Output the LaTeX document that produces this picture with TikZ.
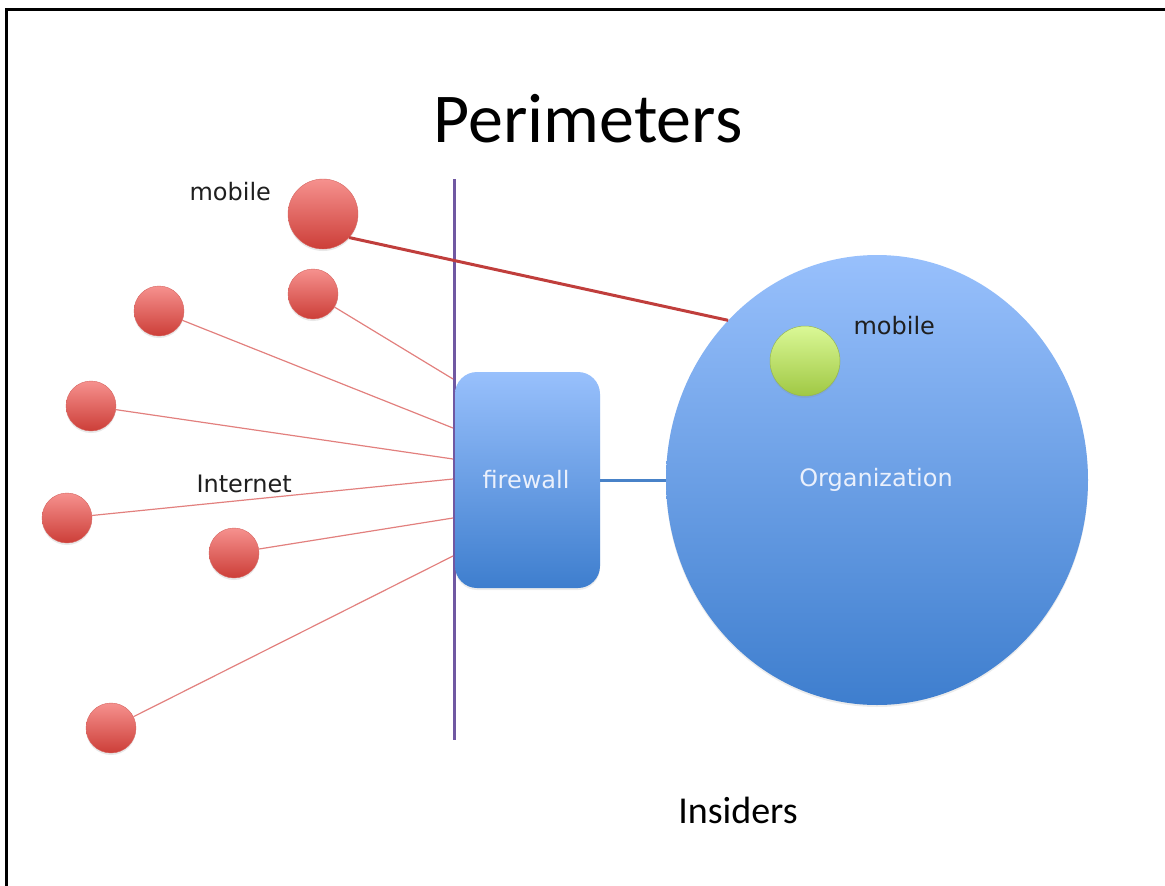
\documentclass[tikz,border=0pt]{standalone}
\usepackage{fontspec}
\setmainfont{Carlito}
\newfontfamily\lblfont{DejaVu Sans}
\usetikzlibrary{shapes.geometric,shadows}

\definecolor{redtop}{RGB}{246,145,142}
\definecolor{redbot}{RGB}{204,62,56}
\definecolor{redline}{RGB}{226,128,126}
\definecolor{mobline}{RGB}{192,62,60}
\definecolor{bluetop}{RGB}{152,192,252}
\definecolor{bluebot}{RGB}{62,126,206}
\definecolor{bluelink}{RGB}{72,130,200}
\definecolor{greentop}{RGB}{218,248,150}
\definecolor{greenbot}{RGB}{160,200,68}
\definecolor{greenedge}{RGB}{150,182,82}
\definecolor{perim}{RGB}{112,88,162}
\definecolor{lighttext}{RGB}{234,240,252}

\tikzset{
  host/.style={circle, inner sep=0pt, minimum size=50pt,
    top color=redtop, bottom color=redbot, draw=redbot!80!white, line width=0.4pt,
    drop shadow={shadow xshift=0pt, shadow yshift=-2pt, opacity=0.18}},
  bighost/.style={host, minimum size=70pt},
  wire/.style={draw=redline, line width=1.2pt},
  label/.style={font=\lblfont\fontsize{24}{28}\selectfont, text=black!88},
  inlabel/.style={font=\lblfont\fontsize{24}{28}\selectfont, text=lighttext}
}

\begin{document}
\begin{tikzpicture}[x=1pt,y=-1pt]
\useasboundingbox (0,0) rectangle (1165,886);

% frame (top and left edges)
\draw[line width=3pt, black] (6.5,886) -- (6.5,9) -- (1165,9);

% title and footer
\node[anchor=base, font=\fontsize{70}{80}\selectfont] (title) at (588,142) {Perimeters};
\node[anchor=base, font=\fontsize{38}{44}\selectfont] (insiders) at (738,823) {Insiders};

% perimeter line
\coordinate (ptop) at (454,179);
\coordinate (pbot) at (454,740);
\draw[perim, line width=3pt] (ptop) -- (pbot);

% organization and firewall
\node[ellipse, minimum width=422pt, minimum height=450pt, inner sep=0pt,
      top color=bluetop, bottom color=bluebot,
      drop shadow={shadow xshift=0pt, shadow yshift=-2pt, opacity=0.15}] (org) at (877,480) {};
\node[inlabel] (orglbl) at (876,480) {Organization};

\node[rectangle, rounded corners=22pt, minimum width=145pt, minimum height=216pt, inner sep=0pt,
      top color=bluetop, bottom color=bluebot,
      drop shadow={shadow xshift=0pt, shadow yshift=-2pt, opacity=0.15}] (fw) at (527.5,480) {};
\node[inlabel] (fwlbl) at (526,480) {firewall};

\draw[bluelink, line width=3pt] (fw.east) -- (org.west);

% inside mobile device
\node[circle, inner sep=0pt, minimum size=70pt, top color=greentop, bottom color=greenbot,
      draw=greenedge, line width=0.5pt,
      drop shadow={shadow xshift=0pt, shadow yshift=-2pt, opacity=0.15}] (inmob) at (805,361) {};
\node[label, anchor=base west] (inmoblbl) at (850,334) {mobile};

% hosts on the internet
\node[bighost] (mob) at (323,214) {};
\node[host] (h1) at (313,294) {};
\node[host] (h2) at (159,311) {};
\node[host] (h3) at (91,406) {};
\node[host] (h4) at (67,518) {};
\node[host] (h5) at (234,553) {};
\node[host] (h6) at (111,728) {};

\node[label, anchor=base west] (moblbl) at (186,200) {mobile};
\node[label, anchor=base west] (netlbl) at (193,492) {Internet};

% ends of the internet links on the firewall edge
\coordinate (e1) at (453,379);
\coordinate (e2) at (453,428);
\coordinate (e3) at (453,459);
\coordinate (e4) at (453,479);
\coordinate (e5) at (453,518);
\coordinate (e6) at (453,556);

\draw[wire] (h1) -- (e1);
\draw[wire] (h2) -- (e2);
\draw[wire] (h3) -- (e3);
\draw[wire] (h4) -- (e4);
\draw[wire] (h5) -- (e5);
\draw[wire] (h6) -- (e6);

% the mobile device bypassing the firewall
\draw[mobline, line width=3pt] (mob.-42) -- (org.133);
\end{tikzpicture}
\end{document}
